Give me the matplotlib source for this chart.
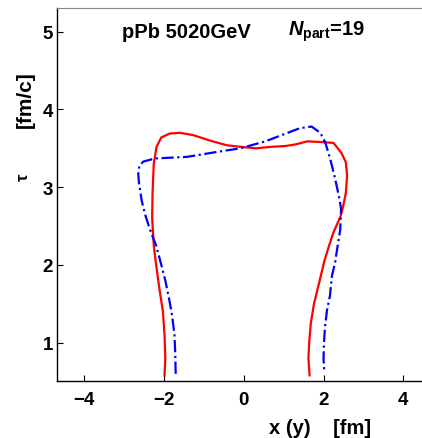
import matplotlib
matplotlib.use('Agg')
import matplotlib.pyplot as plt

plt.rcParams['font.family'] = ['Liberation Sans', 'DejaVu Sans']
plt.rcParams['font.weight'] = 'bold'
plt.rcParams['mathtext.fontset'] = 'custom'
plt.rcParams['mathtext.it'] = 'Liberation Sans:italic:bold'
plt.rcParams['mathtext.rm'] = 'Liberation Sans:bold'
plt.rcParams['mathtext.bf'] = 'Liberation Sans:bold'

# red solid contour (x, tau)
red_x = [-1.99, -1.97, -1.99, -2.03, -2.12, -2.20, -2.26, -2.30, -2.29, -2.26, -2.19,
         -2.07, -1.86, -1.60, -1.27, -0.85, -0.43, -0.09, 0.30, 0.70, 1.05, 1.29,
         1.60, 1.96, 2.25, 2.45, 2.56, 2.59, 2.56, 2.49, 2.43, 2.25, 2.14, 2.02,
         1.88, 1.76, 1.68, 1.64, 1.62, 1.65]
red_t = [0.58, 0.80, 1.10, 1.40, 1.70, 2.00, 2.25, 2.60, 2.93, 3.30, 3.52,
         3.64, 3.69, 3.70, 3.67, 3.60, 3.54, 3.52, 3.50, 3.52, 3.53, 3.55,
         3.59, 3.58, 3.57, 3.44, 3.32, 3.15, 2.93, 2.75, 2.63, 2.42, 2.25, 2.05,
         1.75, 1.50, 1.25, 1.00, 0.80, 0.58]

# blue dash-dot contour (y, tau)
blue_x = [-1.71, -1.72, -1.74, -1.80, -1.87, -1.97, -2.07, -2.20, -2.33, -2.46, -2.56,
          -2.63, -2.65, -2.62, -2.52, -2.23, -1.43, -0.60, -0.09, 0.54, 1.00, 1.41,
          1.70, 1.92, 2.04, 2.17, 2.29, 2.40, 2.44, 2.42, 2.34, 2.29, 2.21, 2.16,
          2.09, 2.04, 2.01, 2.00, 2.02]
blue_t = [0.60, 0.85, 1.10, 1.35, 1.55, 1.80, 2.00, 2.25, 2.42, 2.62, 2.82,
          3.05, 3.17, 3.28, 3.33, 3.37, 3.39, 3.46, 3.50, 3.59, 3.68, 3.76,
          3.78, 3.70, 3.58, 3.36, 3.11, 2.85, 2.72, 2.46, 2.20, 2.03, 1.86, 1.60,
          1.43, 1.22, 1.00, 0.79, 0.62]

xticks = [-4, -2, 0, 2, 4]
yticks = [1, 2, 3, 4, 5]

fig = plt.figure(figsize=(4.22, 4.39), dpi=100)
ax = fig.add_axes([0.1358, 0.1292, 0.884, 0.8503])

ax.plot(red_x, red_t, color='#ff0000', lw=1.6)
ax.plot(blue_x, blue_t, color='#0000ff', lw=1.6, linestyle=(0, (5.5, 1.6, 1.0, 1.6)))

ax.set_xlim(-4.68, 4.68)
ax.set_ylim(0.504, 5.305)
ax.set_xticks(xticks)
ax.set_yticks(yticks)
ax.set_xticklabels(['\u2212%d' % -v if v < 0 else str(v) for v in xticks])
ax.tick_params(direction='in', length=4, width=0.8, labelsize=13.5)
ax.tick_params(axis='x', pad=7)
ax.tick_params(axis='y', pad=3)
ax.spines['top'].set_color('#888888')
for s in ['left', 'bottom']:
    ax.spines[s].set_linewidth(1.0)

fig.text(186/422, 1 - 32/439, 'pPb 5020GeV', fontsize=14.5, fontweight='bold',
         ha='center', va='center')
fig.text(288/422, 1 - 32/439, r'$N_{\mathrm{part}}$=19', fontsize=14.5, fontweight='bold',
         ha='left', va='center')
fig.text(25/422, 1 - 100/439, '[fm/c]', fontsize=15, fontweight='bold',
         rotation=90, ha='center', va='center')
fig.text(23/422, 1 - 177/439, '\u03c4', fontsize=12, fontweight='bold',
         rotation=90, ha='center', va='center')
fig.text(320/422, 1 - 429/439, 'x (y)    [fm]', fontsize=14.5, fontweight='bold',
         ha='center', va='center')

fig.savefig('out.png', dpi=100)
